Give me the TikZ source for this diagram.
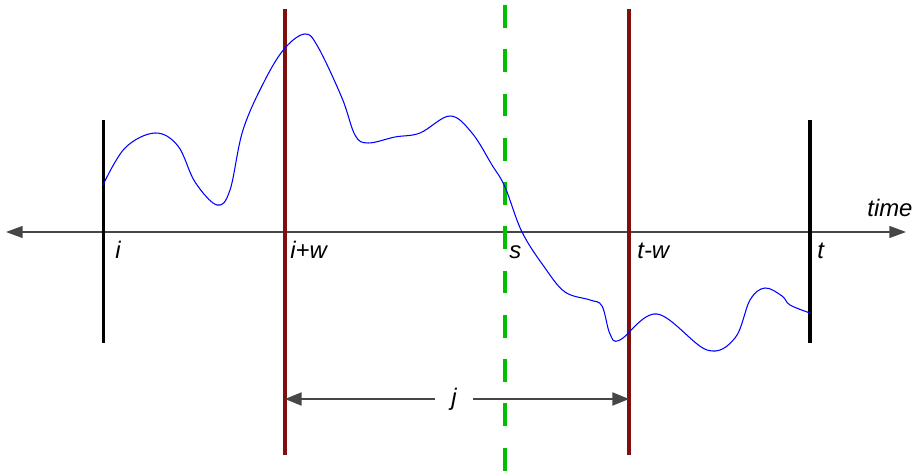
\documentclass[tikz,border=0pt]{standalone}
\usepackage{fontspec}
\setmainfont{Liberation Sans}
\usetikzlibrary{arrows.meta}

\definecolor{winred}{RGB}{128,16,16}
\definecolor{wingreen}{RGB}{0,190,0}
\definecolor{axisgray}{RGB}{70,70,70}

\begin{document}
\begin{tikzpicture}[
  x=0.02cm, y=-0.02cm,
  axis/.style={draw=axisgray,line width=0.85pt,{Triangle[length=9.5pt,width=6.8pt]}-{Triangle[length=9.5pt,width=6.8pt]}},
  dimline/.style={draw=axisgray,line width=0.85pt,-{Triangle[length=9.5pt,width=7.5pt]}},
  border/.style={draw=black,line width=1.8pt},
  window/.style={draw=winred,line width=2pt},
  split/.style={draw=wingreen,line width=2.3pt,dash pattern=on 13pt off 12.2pt},
  signal/.style={draw=blue,line width=0.6pt},
  lbl/.style={inner sep=0pt,anchor=base west,font=\fontsize{13.6}{16}\selectfont\itshape}
]
  \useasboundingbox (0,0) rectangle (915,475);
  % axis
  \coordinate (a0) at (6,232);
  \coordinate (a1) at (906,232);
  \draw[axis] (a0) -- (a1);
  % verticals
  \coordinate (it) at (103.5,120);  \coordinate (ib) at (103.5,343);
  \coordinate (tt) at (810,120);  \coordinate (tb) at (810,343);
  \coordinate (iwt) at (285,9);   \coordinate (iwb) at (285,455);
  \coordinate (twt) at (629,9);   \coordinate (twb) at (629,455);
  \coordinate (st) at (505,5);    \coordinate (sb) at (505,473);
  \draw[border] (it) -- (ib);
  \draw[border] (tt) -- (tb);
  \draw[window] (iwt) -- (iwb);
  \draw[window] (twt) -- (twb);
  \draw[split] (st) -- (sb);
  % signal
  \draw[signal] plot[smooth,tension=0.6] coordinates {
    (103,185) (125,148) (155,133) (178,146) (195,182) (217,205) (230,190)
    (243,130) (265,80) (285,48) (305,34) (318,47) (342,98) (355,135)
    (368,143) (395,137) (420,133) (450,116) (472,133) (492,165) (505,187)
    (522,232) (545,268) (565,292) (590,300) (602,306) (610,334) (620,340)
    (657,314) (707,350) (735,338) (750,300) (765,288) (782,296) (790,305)
    (810,313)};
  % labels
  \node[lbl] (li) at (115,259) {i};
  \node[lbl] (liw) at (290,259) {i+w};
  \node[lbl] (ls) at (509,259) {s};
  \node[lbl] (ltw) at (637,259) {t-w};
  \node[lbl] (lt) at (817,259) {t};
  \node[lbl] (ltime) at (867,217) {time};
  % window length
  \coordinate (jl) at (285,399);
  \coordinate (jr) at (629,399);
  \node[font=\fontsize{13.6}{16}\selectfont\itshape,inner sep=0pt,text width=0.76cm,align=center] (lj) at (454,399) {j};
  \draw[dimline] (lj) -- (jl);
  \draw[dimline] (lj) -- (jr);
\end{tikzpicture}
\end{document}
